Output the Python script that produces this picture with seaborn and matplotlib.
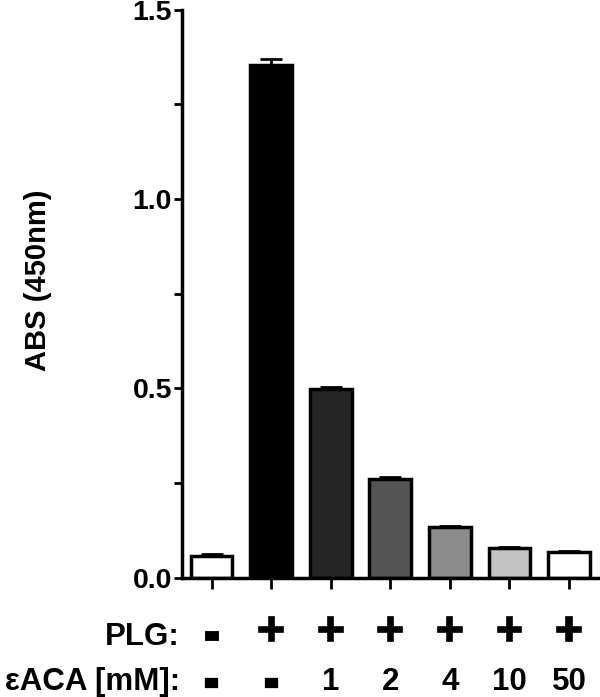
import numpy as np
import pandas as pd
import seaborn as sns
import matplotlib.pyplot as plt
import matplotlib.patheffects as pe

# Data
conditions = ["ctrl", "PLG", "1", "2", "4", "10", "50"]
abs_450 = [0.058, 1.355, 0.498, 0.262, 0.134, 0.080, 0.068]
sem = [0.004, 0.015, 0.005, 0.005, 0.003, 0.002, 0.002]
plg_row = ["-", "+", "+", "+", "+", "+", "+"]
eaca_row = ["-", "-", "1", "2", "4", "10", "50"]
bar_colors = ["#ffffff", "#000000", "#262626", "#555555", "#8c8c8c", "#c2c2c2", "#ffffff"]

df = pd.DataFrame({"cond": conditions, "abs": abs_450})

sns.set_theme(style="ticks")
plt.rcParams["font.family"] = ["Liberation Sans", "DejaVu Sans"]
plt.rcParams["font.weight"] = "bold"
plt.rcParams["text.color"] = "black"
plt.rcParams["axes.labelcolor"] = "black"
plt.rcParams["xtick.color"] = "black"
plt.rcParams["ytick.color"] = "black"

fig = plt.figure(figsize=(6.0, 6.97), dpi=100)
ax = fig.add_axes([0.303, 0.171, 0.695, 0.815])

sns.barplot(data=df, x="cond", y="abs", hue="cond", palette=bar_colors,
            order=conditions, hue_order=conditions, legend=False,
            edgecolor="black", linewidth=2.5, width=0.7, errorbar=None, ax=ax)

xpos = np.arange(len(conditions))
ax.errorbar(xpos, abs_450, yerr=[np.zeros(len(sem)), sem], fmt="none",
            ecolor="black", elinewidth=2, capsize=8, capthick=2, zorder=5)

ax.set_xlim(-0.5, 6.5)
ax.set_ylim(0, 1.5)
ax.set_yticks([0.0, 0.5, 1.0, 1.5])
ax.set_yticks([0.25, 0.75, 1.25], minor=True)
ax.set_yticklabels(["0.0", "0.5", "1.0", "1.5"], fontsize=20.5, fontweight="bold")
ax.set_xticks(xpos)
ax.set_xticklabels([""] * len(xpos))
ax.set_xlabel("")
ax.set_ylabel("ABS (450nm)", fontsize=21, fontweight="bold")
ax.yaxis.set_label_coords(-0.312, 0.523)

ax.tick_params(axis="y", which="major", length=6, width=2, pad=1)
ax.tick_params(axis="y", which="minor", length=6, width=2)
ax.tick_params(axis="x", length=8, width=2)
for s in ["top", "right"]:
    ax.spines[s].set_visible(False)
for s in ["left", "bottom"]:
    ax.spines[s].set_linewidth(2.5)
    ax.spines[s].set_color("black")

# condition rows under the axis
def fat(lw):
    return [pe.withStroke(linewidth=lw, foreground="black",
                          joinstyle="miter", capstyle="projecting")]

trans = ax.get_xaxis_transform()
row1, row2 = -0.118, -0.198
for x, p, e in zip(xpos, plg_row, eaca_row):
    if p == "+":
        ax.text(x, row1, p, transform=trans, ha="center", va="baseline",
                fontsize=34, fontweight="bold", path_effects=fat(1.2))
    else:
        ax.text(x, row1, p, transform=trans, ha="center", va="baseline",
                fontsize=26, fontweight="bold", path_effects=fat(3.5))
    if e == "-":
        ax.text(x, row2, e, transform=trans, ha="center", va="baseline",
                fontsize=20, fontweight="bold", path_effects=fat(4.5))
    else:
        ax.text(x, row2, e, transform=trans, ha="center", va="baseline",
                fontsize=22.5, fontweight="bold")
ax.text(-0.005, row1, "PLG:", transform=ax.transAxes, ha="right", va="baseline",
        fontsize=22.5, fontweight="bold")
ax.text(-0.005, row2, "εACA [mM]:", transform=ax.transAxes, ha="right", va="baseline",
        fontsize=22.5, fontweight="bold")

fig.savefig("out.png", dpi=100)
